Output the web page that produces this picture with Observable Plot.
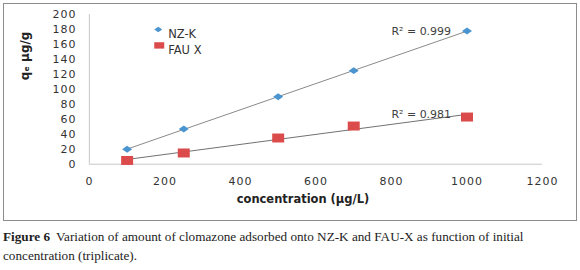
<!DOCTYPE html>
<html>
<head>
<meta charset="utf-8">
<script src="https://cdn.jsdelivr.net/npm/d3@7"></script>
<script src="https://cdn.jsdelivr.net/npm/@observablehq/plot@0.6"></script>
<style>
  html, body { margin: 0; padding: 0; background: #fff; }
  #box { position: absolute; left: 3px; top: 3px; width: 572px; height: 216px; border: 1.5px solid #8c8c8c; overflow: hidden; }
  #caption { position: absolute; left: 3px; top: 227px; width: 570px; font-family: "Liberation Serif", "DejaVu Serif", serif; font-size: 13.2px; line-height: 19px; color: #222; }
  #caption div { white-space: nowrap; }
  #caption b { font-weight: bold; margin-right: 6px; }
</style>
</head>
<body>
<div id="box"></div>
<div id="caption"><div><b>Figure 6</b><span>Variation of amount of clomazone adsorbed onto NZ-K and FAU-X as function of initial</span></div><div>concentration (triplicate).</div></div>
<script>
// ---- data ----
const concentration = [100, 250, 500, 700, 1000];
const nzK = [20, 47, 90, 125, 178];
const fauX = [5, 15, 35, 51, 63];
const seriesNames = ["NZ-K", "FAU X"];
const r2Labels = ["R\u00B2 = 0.999", "R\u00B2 = 0.981"];
const xTicks = [0, 200, 400, 600, 800, 1000, 1200];
const yTicks = [0, 20, 40, 60, 80, 100, 120, 140, 160, 180, 200];
const xTitle = "concentration (\u00B5g/L)";
const yTitle = "q\u2091 \u00B5g/g";

const blue = "#4a94cf";
const red = "#dc4b4b";

const rows = [];
concentration.forEach((c, i) => {
  rows.push({series: seriesNames[0], x: c, y: nzK[i]});
  rows.push({series: seriesNames[1], x: c, y: fauX[i]});
});

function fitEnd(xs, ys) {
  const mx = d3.mean(xs), my = d3.mean(ys);
  const sxy = d3.sum(xs, (x, i) => (x - mx) * (ys[i] - my));
  const sxx = d3.sum(xs, x => (x - mx) ** 2);
  const b = sxy / sxx, a = my - b * mx;
  const xe = d3.max(xs);
  return {x: xe, y: a + b * xe};
}
const labels = [
  {...fitEnd(concentration, nzK), text: r2Labels[0]},
  {...fitEnd(concentration, fauX), text: r2Labels[1]}
];

// custom stretched symbols
const wideDiamond = (hw, hh) => ({draw(ctx) { ctx.moveTo(-hw, 0); ctx.lineTo(0, -hh); ctx.lineTo(hw, 0); ctx.lineTo(0, hh); ctx.closePath(); }});
const wideRect = (hw, hh) => ({draw(ctx) { ctx.moveTo(-hw, -hh); ctx.lineTo(hw, -hh); ctx.lineTo(hw, hh); ctx.lineTo(-hw, hh); ctx.closePath(); }});

const chart = Plot.plot({
  width: 573,
  height: 217,
  marginLeft: 85,
  marginRight: 34,
  marginTop: 10,
  marginBottom: 57,
  style: {fontFamily: "DejaVu Sans", fontSize: "10.5px", color: "#333", background: "#fff"},
  x: {domain: [0, 1200], ticks: xTicks, label: null},
  y: {domain: [0, 200], ticks: yTicks, label: null},
  marks: [
    Plot.ruleY([0], {stroke: "#c8c8c8", strokeWidth: 1}),
    Plot.ruleX([0], {stroke: "#c8c8c8", strokeWidth: 1}),
    Plot.axisX({ticks: xTicks, tickFormat: d => String(d), tickSize: 0, tickPadding: 13, label: null, fill: "#333", fontSize: 11}),
    Plot.axisY({ticks: yTicks, tickFormat: d => String(d), tickSize: 0, tickPadding: 13, label: null, fill: "#333", fontSize: 11}),
    Plot.linearRegressionY(rows.filter(d => d.series === seriesNames[0]), {x: "x", y: "y", stroke: "#8a8a8a", strokeWidth: 1, ci: 0}),
    Plot.linearRegressionY(rows.filter(d => d.series === seriesNames[1]), {x: "x", y: "y", stroke: "#707070", strokeWidth: 1, ci: 0}),
    Plot.dot(rows.filter(d => d.series === seriesNames[0]), {x: "x", y: "y", symbol: wideDiamond(5, 3.5), fill: blue, stroke: "none", r: 4}),
    Plot.dot(rows.filter(d => d.series === seriesNames[1]), {x: "x", y: "y", symbol: wideRect(6, 4.5), fill: red, stroke: "none", r: 4}),
    Plot.text(labels, {x: "x", y: "y", text: "text", textAnchor: "end", dx: -16, dy: 0, fill: "#404040", fontSize: 11, fontFamily: "DejaVu Sans"}),
    // legend
    Plot.dot([seriesNames[0]], {frameAnchor: "top-left", dx: 69, dy: 15, symbol: wideDiamond(4, 2.8), fill: blue, stroke: "none"}),
    Plot.dot([seriesNames[1]], {frameAnchor: "top-left", dx: 70, dy: 31, symbol: wideRect(5, 3.2), fill: red, stroke: "none"}),
    Plot.text([seriesNames[0]], {frameAnchor: "top-left", dx: 79, dy: 15, text: d => d, textAnchor: "start", fill: "#333", fontSize: 11.5}),
    Plot.text([seriesNames[1]], {frameAnchor: "top-left", dx: 79, dy: 31, text: d => d, textAnchor: "start", fill: "#333", fontSize: 11.5}),
    // titles
    Plot.text([xTitle], {frameAnchor: "bottom", dx: -13, dy: 39, text: d => d, fontWeight: "bold", fontSize: 11.5, fill: "#222"}),
    Plot.text([yTitle], {frameAnchor: "left", dx: -64, dy: -9, rotate: -90, text: d => d, fontWeight: "bold", fontSize: 12, fill: "#222"})
  ]
});
chart.querySelectorAll("g[aria-label='x-axis tick label'] text, g[aria-label='y-axis tick label'] text").forEach(t => t.setAttribute("letter-spacing", "1"));
document.getElementById("box").appendChild(chart);
</script>
</body>
</html>
